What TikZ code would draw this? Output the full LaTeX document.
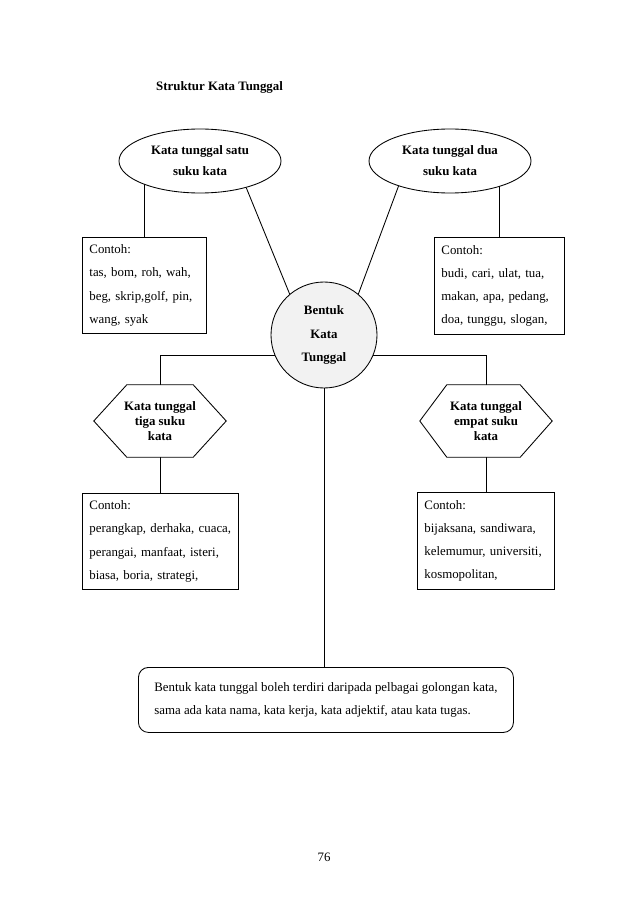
\documentclass[tikz,border=0pt]{standalone}
\usepackage{fontspec}
\setmainfont{Liberation Serif}
\usetikzlibrary{calc,backgrounds,shapes.geometric}
\definecolor{circfill}{HTML}{F2F2F2}
\newlength{\uu}
\setlength{\uu}{0.9333pt}
\tikzset{
  ln/.style={line width=0.8pt, black},
  ovalnode/.style={ellipse, draw, ln, fill=white, minimum width=162\uu, minimum height=64\uu, inner sep=0pt,
    align=center, font=\fontsize{12}{19.6}\selectfont\bfseries},
  exbox/.style={rectangle, draw, ln, fill=white, inner xsep=7\uu, inner ysep=0pt, align=left,
    font=\fontsize{12}{21.5}\selectfont, anchor=north west},
  hexnode/.style={rectangle, minimum width=132\uu, minimum height=72\uu, inner sep=0pt, align=center,
    font=\fontsize{12}{14}\selectfont\bfseries},
  hexline/.style={ln, fill=white},
  centre/.style={circle, draw, ln, fill=circfill, minimum size=106\uu, inner sep=0pt, align=center,
    font=\fontsize{12}{22}\selectfont\bfseries},
  notebox/.style={rectangle, draw, ln, rounded corners=10\uu, fill=white, minimum width=375\uu,
    minimum height=65\uu, align=left, font=\fontsize{12}{22}\selectfont, anchor=north west},
  plain/.style={inner sep=0pt, font=\fontsize{12}{14}\selectfont}
}
\begin{document}
\begin{tikzpicture}[x=\uu, y=-\uu]
\useasboundingbox (0,0) rectangle (638,903);

\node[plain, anchor=base west, font=\fontsize{12}{14}\selectfont\bfseries] (title) at (156,91) {Struktur Kata Tunggal};

\node[ovalnode] (e1) at (200,161) {Kata tunggal satu\\suku kata};
\node[ovalnode] (e2) at (450,161) {Kata tunggal dua\\suku kata};

\node[exbox, minimum width=124\uu, minimum height=96\uu, text width=110\uu] (b1) at (82,237)
  {Contoh:\\tas, bom, roh, wah,\\beg, skrip,golf, pin,\\wang, syak};
\node[exbox, minimum width=130\uu, minimum height=97\uu, text width=116\uu] (b2) at (434,237)
  {Contoh:\\budi, cari, ulat, tua,\\makan, apa, pedang,\\doa, tunggu, slogan,};

\node[centre] (c) at (324,335) {Bentuk\\Kata\\Tunggal};

% hexagons
\node[hexnode] (h1) at (160,421) {};
\node[hexnode] (h2) at (486,421) {};
\filldraw[hexline] (h1.west) -- ($(h1.north west)+(33,0)$) -- ($(h1.north east)+(-33,0)$) -- (h1.east)
  -- ($(h1.south east)+(-33,0)$) -- ($(h1.south west)+(33,0)$) -- cycle;
\filldraw[hexline] (h2.west) -- ($(h2.north west)+(27,0)$) -- ($(h2.north east)+(-32,0)$) -- (h2.east)
  -- ($(h2.south east)+(-32,0)$) -- ($(h2.south west)+(27,0)$) -- cycle;
\node[hexnode] (h1t) at (h1.center) {Kata tunggal\\tiga suku\\kata};
\node[hexnode] (h2t) at (h2.center) {Kata tunggal\\empat suku\\kata};

\node[exbox, minimum width=156\uu, minimum height=96\uu, text width=142\uu] (b3) at (82,493)
  {Contoh:\\perangkap, derhaka, cuaca,\\perangai, manfaat, isteri,\\biasa, boria, strategi,};
\node[exbox, minimum width=137\uu, minimum height=97\uu, text width=123\uu] (b4) at (417,492)
  {Contoh:\\bijaksana, sandiwara,\\kelemumur, universiti,\\kosmopolitan,};

\node[notebox] (bb) at (138,667)
  {Bentuk kata tunggal boleh terdiri daripada pelbagai golongan kata,\\sama ada kata nama, kata kerja, kata adjektif, atau kata tugas.};

\node[plain, anchor=base] (pg) at (324,861) {76};

\coordinate (jl) at (160,355);
\coordinate (jr) at (486,355);

\begin{pgfonlayer}{background}
  \fill[white] (0,0) rectangle (638,903);
  \draw[ln] (b1.north) -- (b1.north |- e1.center);
  \draw[ln] (b2.north) -- (b2.north |- e2.center);
  \draw[ln] (e1.-30) -- (c.130);
  \draw[ln] (e2.206) -- (c.50);
  \draw[ln] (h1.center) -- (jl) -- (jl -| c.center);
  \draw[ln] (h2.center) -- (jr) -- (jr -| c.center);
  \draw[ln] (b3.north) -- (b3.north |- h1.center);
  \draw[ln] (b4.north) -- (b4.north |- h2.center);
  \draw[ln] (c.center) -- (c.center |- bb.north);
\end{pgfonlayer}
\end{tikzpicture}
\end{document}
